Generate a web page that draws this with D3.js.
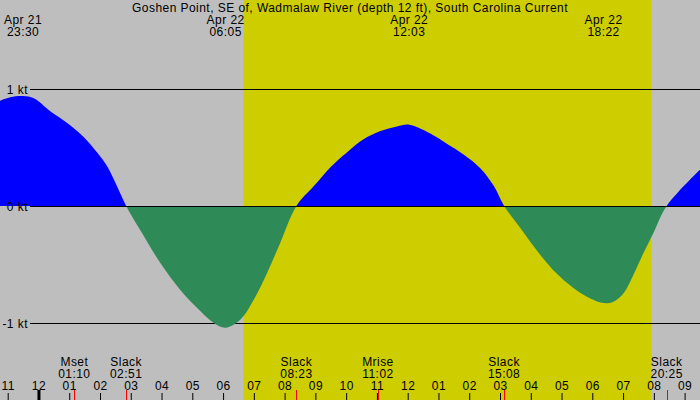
<!DOCTYPE html>
<html>
<head>
<meta charset="utf-8">
<script src="https://cdn.jsdelivr.net/npm/d3@7"></script>
<style>
  html, body { margin: 0; padding: 0; background: #bebebe; }
  svg { display: block; font-family: "Liberation Sans", Arial, sans-serif; font-size: 12px; letter-spacing: 0.45px; }
</style>
</head>
<body>
<div id="chart"></div>
<script>
// ── Data ───────────────────────────────────────────────────────────────────
const TITLE = "Goshen Point, SE of, Wadmalaw River (depth 12 ft), South Carolina Current";

const domainTimes = ["04-21 22:45", "04-22 21:30"];
const daylight    = ["04-22 06:40", "04-22 19:55"];

// current (knots)
const flowTimes = [
  "04-21 22:45", "04-21 23:05", "04-21 23:30", "04-21 23:51", "04-22 00:23",
  "04-22 00:56", "04-22 01:28", "04-22 01:54", "04-22 02:14", "04-22 02:33",
  "04-22 02:51", "04-22 03:19", "04-22 03:58", "04-22 04:37", "04-22 05:16",
  "04-22 05:42", "04-22 06:05", "04-22 06:34", "04-22 07:00", "04-22 07:26",
  "04-22 07:52", "04-22 08:23", "04-22 08:57", "04-22 09:29", "04-22 10:02",
  "04-22 10:34", "04-22 11:07", "04-22 11:39", "04-22 12:03", "04-22 12:44",
  "04-22 13:17", "04-22 13:49", "04-22 14:22", "04-22 14:48", "04-22 15:08",
  "04-22 15:40", "04-22 16:19", "04-22 16:51", "04-22 17:23", "04-22 17:56",
  "04-22 18:22", "04-22 18:41", "04-22 19:01", "04-22 19:20", "04-22 19:40",
  "04-22 19:59", "04-22 20:25", "04-22 21:30"
];
const flowKnots = [
  0.90, 0.93, 0.94, 0.92, 0.81,
  0.71, 0.59, 0.46, 0.34, 0.17,
  0.00, -0.21, -0.49, -0.72, -0.90,
  -1.00, -1.04, -0.97, -0.80, -0.57,
  -0.31, 0.00, 0.17, 0.33, 0.46,
  0.57, 0.64, 0.68, 0.695, 0.62,
  0.53, 0.44, 0.32, 0.17, 0.00,
  -0.19, -0.42, -0.58, -0.70, -0.79,
  -0.83, -0.818, -0.746, -0.59, -0.40,
  -0.233, 0.00, 0.31
];

// max/min labels along the top
const peakDates = ["Apr 21", "Apr 22", "Apr 22", "Apr 22"];
const peakTimes = ["04-21 23:30", "04-22 06:05", "04-22 12:03", "04-22 18:22"];

// slack / moon events along the bottom
const eventNames = ["Mset", "Slack", "Slack", "Mrise", "Slack", "Slack"];
const eventTimes = ["04-22 01:10", "04-22 02:51", "04-22 08:23", "04-22 11:02", "04-22 15:08", "04-22 20:25"];

const gridKnots  = [1, 0, -1];
const gridLabels = ["1 kt", "0 kt", "-1 kt"];

// ── Setup ──────────────────────────────────────────────────────────────────
const W = 700, H = 400;
const parse = d3.timeParse("%m-%d %H:%M");
const fmtHM = d3.timeFormat("%H:%M");

const x = d3.scaleTime().domain(domainTimes.map(parse)).range([0, W]);
const y = d3.scaleLinear().domain([-1, 1]).range([323, 89]);

const svg = d3.select("#chart").append("svg").attr("width", W).attr("height", H);

// background + daylight
svg.append("rect").attr("width", W).attr("height", H).attr("fill", "#bebebe");
svg.append("rect")
  .attr("x", x(parse(daylight[0]))).attr("y", 0)
  .attr("width", x(parse(daylight[1])) - x(parse(daylight[0])))
  .attr("height", H)
  .attr("fill", "#cdcd00");

// ── Current area (blue flood / green ebb) ─────────────────────────────────
const flow = flowTimes.map((t, i) => ({ t: parse(t), v: flowKnots[i] }));
const area = d3.area()
  .x(d => x(d.t))
  .y0(y(0))
  .y1(d => y(d.v))
  .curve(d3.curveCatmullRom.alpha(0.5));

const defs = svg.append("defs");
defs.append("clipPath").attr("id", "above")
  .append("rect").attr("x", 0).attr("y", 0).attr("width", W).attr("height", y(0));
defs.append("clipPath").attr("id", "below")
  .append("rect").attr("x", 0).attr("y", y(0)).attr("width", W).attr("height", H - y(0));

// grid lines
svg.selectAll(".grid")
  .data(gridKnots)
  .enter().append("line")
  .attr("x1", 30).attr("x2", W)
  .attr("y1", d => y(d) + 0.5).attr("y2", d => y(d) + 0.5)
  .attr("stroke", "#000").attr("stroke-width", 1);

svg.append("path").datum(flow).attr("d", area)
  .attr("fill", "#0000ff").attr("clip-path", "url(#above)");
svg.append("path").datum(flow).attr("d", area)
  .attr("fill", "#2e8b57").attr("clip-path", "url(#below)");

// zero line on top
svg.append("line")
  .attr("x1", 30).attr("x2", W)
  .attr("y1", y(0) + 0.5).attr("y2", y(0) + 0.5)
  .attr("stroke", "#000");

svg.selectAll(".glabel")
  .data(gridKnots)
  .enter().append("text")
  .attr("x", 28).attr("y", d => y(d) + 5)
  .attr("text-anchor", "end")
  .text((d, i) => gridLabels[i]);

// ── Text ───────────────────────────────────────────────────────────────────
svg.append("text").attr("x", W / 2).attr("y", 12)
  .attr("text-anchor", "middle").text(TITLE);

const peaks = svg.selectAll(".peak").data(peakTimes).enter().append("g");
peaks.append("text")
  .attr("x", d => x(parse(d))).attr("y", 24)
  .attr("text-anchor", "middle").text((d, i) => peakDates[i]);
peaks.append("text")
  .attr("x", d => x(parse(d))).attr("y", 36)
  .attr("text-anchor", "middle").text(d => fmtHM(parse(d)));

const evs = svg.selectAll(".ev").data(eventTimes).enter().append("g");
evs.append("text")
  .attr("x", d => x(parse(d))).attr("y", 366)
  .attr("text-anchor", "middle").text((d, i) => eventNames[i]);
evs.append("text")
  .attr("x", d => x(parse(d))).attr("y", 378)
  .attr("text-anchor", "middle").text(d => fmtHM(parse(d)));

// ── Hour axis ──────────────────────────────────────────────────────────────
const axis = svg.append("g")
  .attr("transform", `translate(0,${H})`)
  .call(d3.axisTop(x).ticks(d3.timeHour.every(1)).tickFormat(d3.timeFormat("%I")).tickSize(7).tickPadding(3));
axis.select(".domain").remove();
axis.selectAll("text").attr("font-family", "Liberation Sans, Arial, sans-serif").attr("font-size", 12).attr("fill", "#000");
axis.selectAll(".tick line").attr("stroke", "#000");
axis.selectAll(".tick")
  .filter(d => d.getHours() === 0)
  .select("line").attr("y2", -10).attr("stroke-width", 3);

// event ticks in red
svg.selectAll(".evtick").data(eventTimes).enter().append("line")
  .attr("x1", d => Math.round(x(parse(d))) + 0.5).attr("x2", d => Math.round(x(parse(d))) + 0.5)
  .attr("y1", 390).attr("y2", H)
  .attr("stroke", "#ff0000");
</script>
</body>
</html>
